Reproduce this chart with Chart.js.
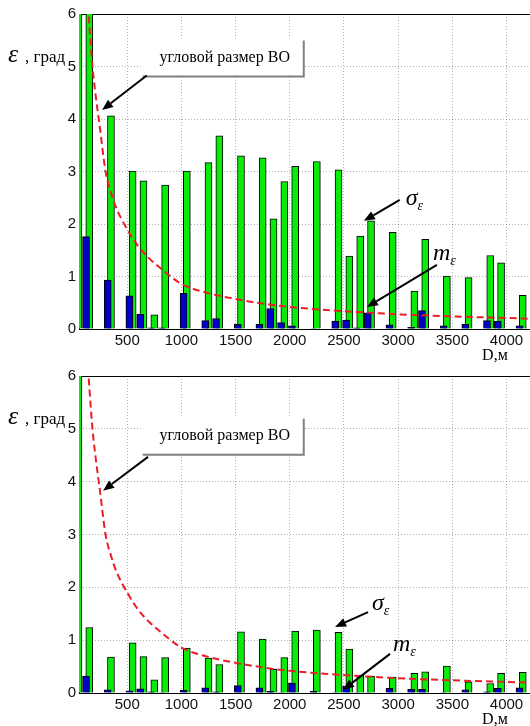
<!DOCTYPE html>
<html>
<head>
<meta charset="utf-8">
<script src="https://cdn.jsdelivr.net/npm/chart.js@4.4.1/dist/chart.umd.min.js"></script>
<style>
  html, body { margin: 0; padding: 0; background: #fff; overflow: hidden; width: 530px; height: 726px; }
  #wrap { position: relative; width: 530px; height: 726px; overflow: hidden; }
  canvas { position: absolute; left: 0; }
</style>
</head>
<body>
<div id="wrap">
  <canvas id="chartTop" width="545" height="363" style="top:0"></canvas>
  <canvas id="chartBottom" width="545" height="363" style="top:363px"></canvas>
</div>
<script>
// Distance of each measurement group, m
const DIST = [50, 150, 350, 550, 650, 750, 850, 1050, 1250, 1350, 1550, 1750, 1850, 1950,
              2050, 2250, 2450, 2550, 2650, 2750, 2950, 3150, 3250, 3450, 3650, 3850, 3950, 4150];

// Upper panel: standard deviation and mean of the angular error, deg
const SIGMA_TOP = [7.2, 6.4, 4.06, 3.01, 2.82, 0.27, 2.74, 3.01, 3.17, 3.68, 3.30, 3.26, 2.10, 2.81,
                   3.10, 3.19, 3.03, 1.39, 1.77, 2.06, 1.84, 0.72, 1.71, 1.01, 0.98, 1.40, 1.26, 0.64];
const MEAN_TOP  = [2.4, 1.76, 0.93, 0.63, 0.28, 0.02, 0.02, 0.68, 0.16, 0.20, 0.09, 0.09, 0.39, 0.12,
                   0.06, 0.01, 0.15, 0.17, 0.02, 0.31, 0.08, 0.03, 0.35, 0.06, 0.09, 0.16, 0.15, 0.06];

// Lower panel
const SIGMA_BOTTOM = [6.5, 1.24, 0.68, 0.95, 0.69, 0.25, 0.67, 0.85, 0.66, 0.54, 1.16, 1.02, 0.45, 0.67,
                      1.17, 1.19, 1.15, 0.83, 0.34, 0.32, 0.30, 0.37, 0.40, 0.51, 0.21, 0.18, 0.37, 0.39];
const MEAN_BOTTOM  = [0.8, 0.32, 0.06, 0.04, 0.08, 0.02, 0.01, 0.05, 0.10, 0.02, 0.14, 0.10, 0.03, 0.01,
                      0.19, 0.03, 0.01, 0.13, 0.01, 0.01, 0.09, 0.07, 0.07, 0.01, 0.06, 0.02, 0.09, 0.10];

// Angular size of the target versus distance
const SIZE_D   = [145, 175, 200, 250, 300, 350, 400, 500, 600, 700, 800, 1000, 1200, 1500, 1800, 2000, 2500, 3000, 3500, 4000, 4300];
const SIZE_DEG = [5.95, 5.1, 4.6, 3.8, 3.0, 2.6, 2.3, 1.9, 1.58, 1.35, 1.17, 0.86, 0.71, 0.57, 0.47, 0.42, 0.34, 0.28, 0.24, 0.21, 0.19];

// Axis ticks
const X_TICKS = [500, 1000, 1500, 2000, 2500, 3000, 3500, 4000];
const Y_TICKS = [0, 1, 2, 3, 4, 5, 6];

// Styling
const X_MIN = 55, X_MAX = 4300;
const MEAN_SHIFT = 30;           // mean bars sit slightly left of the sigma bars
const GREEN = 'rgb(10,235,10)';
const BLUE = 'rgb(0,0,200)';
const RED = 'rgb(235,30,40)';
const GRID = 'rgba(0,0,0,0.30)';
const SERIF = '"Liberation Serif", "Times New Roman", serif';

Chart.defaults.font.family = '"Liberation Sans", Arial, sans-serif';
Chart.defaults.font.size = 15;
Chart.defaults.color = '#111';

// Annotation layout, anchored in data units (distance, degrees)
const NOTES_TOP = {
  box: [1400, 5.17],
  boArrow: [[680, 4.83], [268, 4.17]],
  sigma: [3070, 2.36], sigmaArrow: [[3015, 2.46], [2684, 2.06]],
  mean: [3321, 1.31], meanArrow: [[3358, 1.22], [2712, 0.42]]
};
const NOTES_BOTTOM = {
  box: [1400, 4.87],
  boArrow: [[692, 4.47], [277, 3.83]],
  sigma: [2759, 1.57], sigmaArrow: [[2722, 1.53], [2418, 1.25]],
  mean: [2953, 0.79], meanArrow: [[2925, 0.74], [2492, 0.06]]
};

function drawArrow(ctx, x1, y1, x2, y2) {
  const a = Math.atan2(y2 - y1, x2 - x1);
  const hl = 11, hw = 4.5;
  const bx = x2 - hl * Math.cos(a), by = y2 - hl * Math.sin(a);
  ctx.strokeStyle = '#000';
  ctx.fillStyle = '#000';
  ctx.lineWidth = 2;
  ctx.beginPath(); ctx.moveTo(x1, y1); ctx.lineTo(bx, by); ctx.stroke();
  ctx.beginPath();
  ctx.moveTo(x2, y2);
  ctx.lineTo(bx + hw * Math.sin(a), by - hw * Math.cos(a));
  ctx.lineTo(bx - hw * Math.sin(a), by + hw * Math.cos(a));
  ctx.closePath(); ctx.fill();
}

function notesPlugin(notes) {
  return {
    id: 'notes',
    afterDraw(chart) {
      const ctx = chart.ctx, xs = chart.scales.x, ys = chart.scales.y, area = chart.chartArea;
      const P = (p) => [xs.getPixelForValue(p[0]), ys.getPixelForValue(p[1])];
      ctx.save();

      // text box for the angular-size curve
      const [cx, cy] = P(notes.box);
      const bl = cx - 84, br = cx + 79, bt = cy - 19, bb = cy + 19;
      ctx.fillStyle = '#fff';
      ctx.fillRect(bl, bt, br - bl, bb - bt);
      ctx.strokeStyle = '#808080';
      ctx.lineWidth = 2;
      ctx.beginPath(); ctx.moveTo(br, bt + 2); ctx.lineTo(br, bb); ctx.lineTo(bl + 2, bb); ctx.stroke();
      ctx.fillStyle = '#000';
      ctx.font = '16px ' + SERIF;
      ctx.textAlign = 'center';
      ctx.textBaseline = 'middle';
      ctx.fillText('угловой размер ВО', cx, cy);

      const a1 = P(notes.boArrow[0]), a2 = P(notes.boArrow[1]);
      drawArrow(ctx, a1[0], a1[1], a2[0], a2[1]);

      // sigma and mean labels with their arrows
      ctx.textAlign = 'left';
      ctx.textBaseline = 'alphabetic';
      const label = (pos, main) => {
        const [lx, ly] = P(pos);
        ctx.fillStyle = '#000';
        ctx.font = 'italic 24px ' + SERIF;
        ctx.fillText(main, lx, ly);
        const w = ctx.measureText(main).width;
        ctx.font = 'italic 14px ' + SERIF;
        ctx.fillText('ε', lx + w, ly + 5);
      };
      label(notes.sigma, 'σ');
      label(notes.mean, 'm');
      let s1 = P(notes.sigmaArrow[0]), s2 = P(notes.sigmaArrow[1]);
      drawArrow(ctx, s1[0], s1[1], s2[0], s2[1]);
      s1 = P(notes.meanArrow[0]); s2 = P(notes.meanArrow[1]);
      drawArrow(ctx, s1[0], s1[1], s2[0], s2[1]);

      // axis titles
      ctx.fillStyle = '#000';
      ctx.font = 'italic 26px ' + SERIF;
      ctx.fillText('ε', 8, area.top + 48);
      ctx.font = '17px ' + SERIF;
      ctx.fillText(', град', 25, area.top + 48);
      ctx.font = '16px ' + SERIF;
      ctx.fillText('D,м', xs.getPixelForValue(3775), area.bottom + 31);
      ctx.restore();
    }
  };
}

function buildChart(id, sigma, mean, notes, padTop, axisH) {
  const gridOpts = { color: GRID, lineWidth: 1, drawTicks: false, offset: false };
  const borderOpts = { color: '#000', width: 1, dash: [1, 2] };
  return new Chart(document.getElementById(id), {
    type: 'bar',
    data: {
      datasets: [
        {
          type: 'line', label: 'угловой размер ВО',
          data: SIZE_D.map((d, i) => ({ x: d, y: SIZE_DEG[i] })),
          xAxisID: 'x', yAxisID: 'y',
          borderColor: RED, borderWidth: 2, borderDash: [7, 4],
          pointRadius: 0, fill: false, cubicInterpolationMode: 'monotone', order: 0
        },
        {
          label: 'm',
          data: DIST.map((d, i) => ({ x: d, y: mean[i] })),
          xAxisID: 'xm', yAxisID: 'y',
          backgroundColor: BLUE, borderColor: '#000', borderWidth: 1,
          barThickness: 7, grouped: false, order: 1
        },
        {
          label: 'σ',
          data: DIST.map((d, i) => ({ x: d, y: sigma[i] })),
          xAxisID: 'x', yAxisID: 'y',
          backgroundColor: GREEN, borderColor: '#000', borderWidth: 1,
          barThickness: 7, grouped: false, order: 2
        }
      ]
    },
    options: {
      responsive: false,
      animation: false,
      events: [],
      layout: { padding: { top: padTop, right: 6, bottom: 0, left: 0 }, autoPadding: false },
      plugins: { legend: { display: false }, tooltip: { enabled: false } },
      scales: {
        x: {
          type: 'linear', position: 'bottom', min: X_MIN, max: X_MAX, offset: false,
          afterBuildTicks: (s) => { s.ticks = X_TICKS.map(v => ({ value: v })); },
          afterFit: (s) => { s.height = axisH; },
          grid: gridOpts, border: borderOpts,
          ticks: { padding: 3, maxRotation: 0, autoSkip: false, callback: (v) => String(v) }
        },
        xm: {
          type: 'linear', display: false, min: X_MIN + MEAN_SHIFT, max: X_MAX + MEAN_SHIFT, offset: false
        },
        xt: {
          type: 'linear', position: 'top', min: X_MIN, max: X_MAX, offset: false,
          ticks: { display: false }, grid: { display: false, drawTicks: false },
          border: { color: '#000', width: 1 },
          afterFit: (s) => { s.height = 0; }
        },
        y: {
          type: 'linear', position: 'left', min: 0, max: 6,
          afterBuildTicks: (s) => { s.ticks = Y_TICKS.map(v => ({ value: v })); },
          afterFit: (s) => { s.width = 79; },
          grid: gridOpts, border: borderOpts,
          ticks: { padding: 3 }
        }
      }
    },
    plugins: [notesPlugin(notes)]
  });
}

buildChart('chartTop', SIGMA_TOP, MEAN_TOP, NOTES_TOP, 14, 34);
buildChart('chartBottom', SIGMA_BOTTOM, MEAN_BOTTOM, NOTES_BOTTOM, 13, 33);
</script>
</body>
</html>
